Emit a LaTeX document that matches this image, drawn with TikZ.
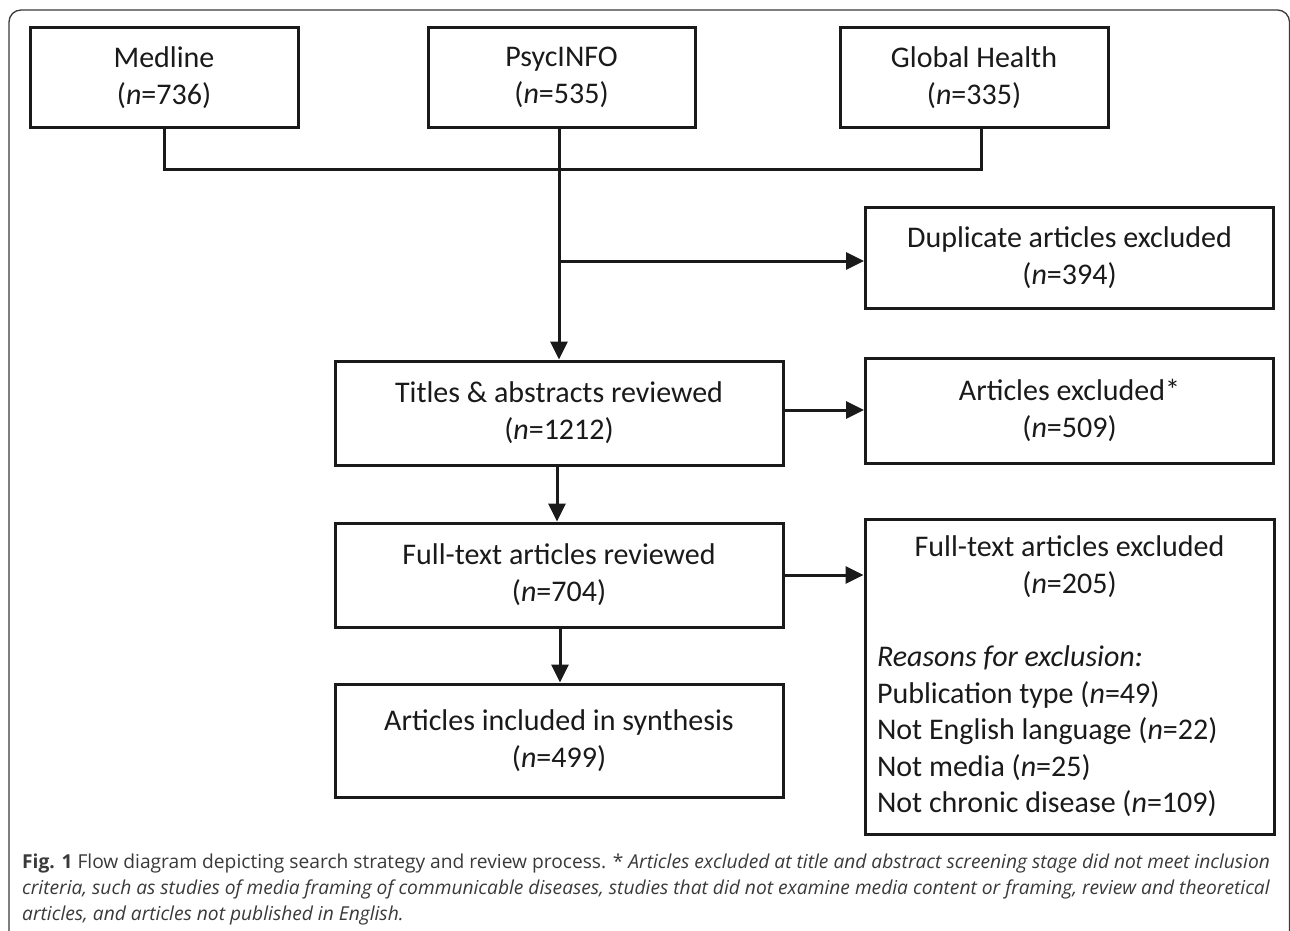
\documentclass[tikz,border=0pt]{standalone}
\usepackage{fontspec}
\setmainfont{Carlito}
\newfontfamily\capfont{Open Sans}
\usetikzlibrary{arrows.meta,calc}
\definecolor{ink}{HTML}{1A1A1A}
\definecolor{capink}{HTML}{3A3A3A}
\begin{document}
\begin{tikzpicture}[x=1pt,y=-1pt,
  box/.style={draw=ink,line width=3pt,inner sep=0pt,align=center,text=ink,
    font=\fontsize{30}{37}\selectfont},
  conn/.style={draw=ink,line width=3pt},
  arr/.style={conn,-{Triangle[length=18pt,width=17pt]}},
  capline/.style={anchor=base west,inner sep=0pt,text=capink,
    font=\capfont\fontsize{19.2}{26}\selectfont}]
\useasboundingbox (0,0) rectangle (1290,931);
\fill[white] (0,0) rectangle (1290,931);
% outer frame
\begin{scope}
\clip (0,0) rectangle (1290,931);
\draw[capink,line width=1.3pt,rounded corners=12pt] (9,10) rectangle (1289.5,945);
\end{scope}
% boxes
\node[box,minimum width=268pt,minimum height=100pt] (med) at (164,77.5) {Medline\\(\textit{n}=736)};
\node[box,minimum width=267pt,minimum height=100pt] (psy) at (561.5,77.5) {PsycINFO\\(\textit{n}=535)};
\node[box,minimum width=268pt,minimum height=100pt] (gh) at (974,77.5) {Global Health\\(\textit{n}=335)};
\node[box,minimum width=408pt,minimum height=101pt] (dup) at (1069.5,257.5) {Duplicate articles excluded\\(\textit{n}=394)};
\node[box,minimum width=448pt,minimum height=104pt] (tit) at (559,413) {Titles \& abstracts reviewed\\(\textit{n}=1212)};
\node[box,minimum width=408pt,minimum height=105pt] (exc) at (1069.5,410.5) {Articles excluded*\\(\textit{n}=509)};
\node[box,minimum width=448pt,minimum height=104pt] (ft) at (559,575) {Full-text articles reviewed\\(\textit{n}=704)};
\node[box,minimum width=409pt,minimum height=315pt,align=left] (fte) at (1069.5,676.5) {%
  \begin{minipage}{385pt}\fontsize{30}{36.6}\selectfont
  {\centering Full-text articles excluded\\(\textit{n}=205)\\[36.6pt]\par}
  \raggedright
  \textit{Reasons for exclusion:}\\
  Publication type (\textit{n}=49)\\
  Not English language (\textit{n}=22)\\
  Not media (\textit{n}=25)\\
  Not chronic disease (\textit{n}=109)
  \end{minipage}};
\node[box,minimum width=448pt,minimum height=113pt] (inc) at (559,740.5) {Articles included in synthesis\\(\textit{n}=499)};
% connectors
\coordinate (join) at (559,169);
\coordinate (ghj) at (981,169);
\coordinate (branch) at (559,261);
\draw[conn] (med.south) -- (med.south |- join) -- (ghj) -- (ghj |- gh.south);
\draw[conn] (psy.south -| join) -- (join);
\draw[arr] (join) -- (join |- tit.north);
\draw[arr] (branch) -- (branch -| dup.west);
\draw[arr] (tit.east) ++(0,-3) coordinate (te) (te) -- (te -| exc.west);
\draw[arr] ($(tit.south)+(-2,0)$) coordinate (ts) (ts) -- (ts |- ft.north);
\draw[arr] (ft.east) -- (ft.east -| fte.west);
\draw[arr] ($(ft.south)+(1,0)$) coordinate (fs) (fs) -- (fs |- inc.north);
% caption
\node[capline] (cap1) at (22,868) {\textbf{Fig. 1} Flow diagram depicting search strategy and review process. * \textit{Articles excluded at title and abstract screening stage did not meet inclusion}};
\node[capline] (cap2) at (22,894) {\textit{criteria, such as studies of media framing of communicable diseases, studies that did not examine media content or framing, review and theoretical}};
\node[capline] (cap3) at (22,920) {\textit{articles, and articles not published in English.}};
\end{tikzpicture}
\end{document}
